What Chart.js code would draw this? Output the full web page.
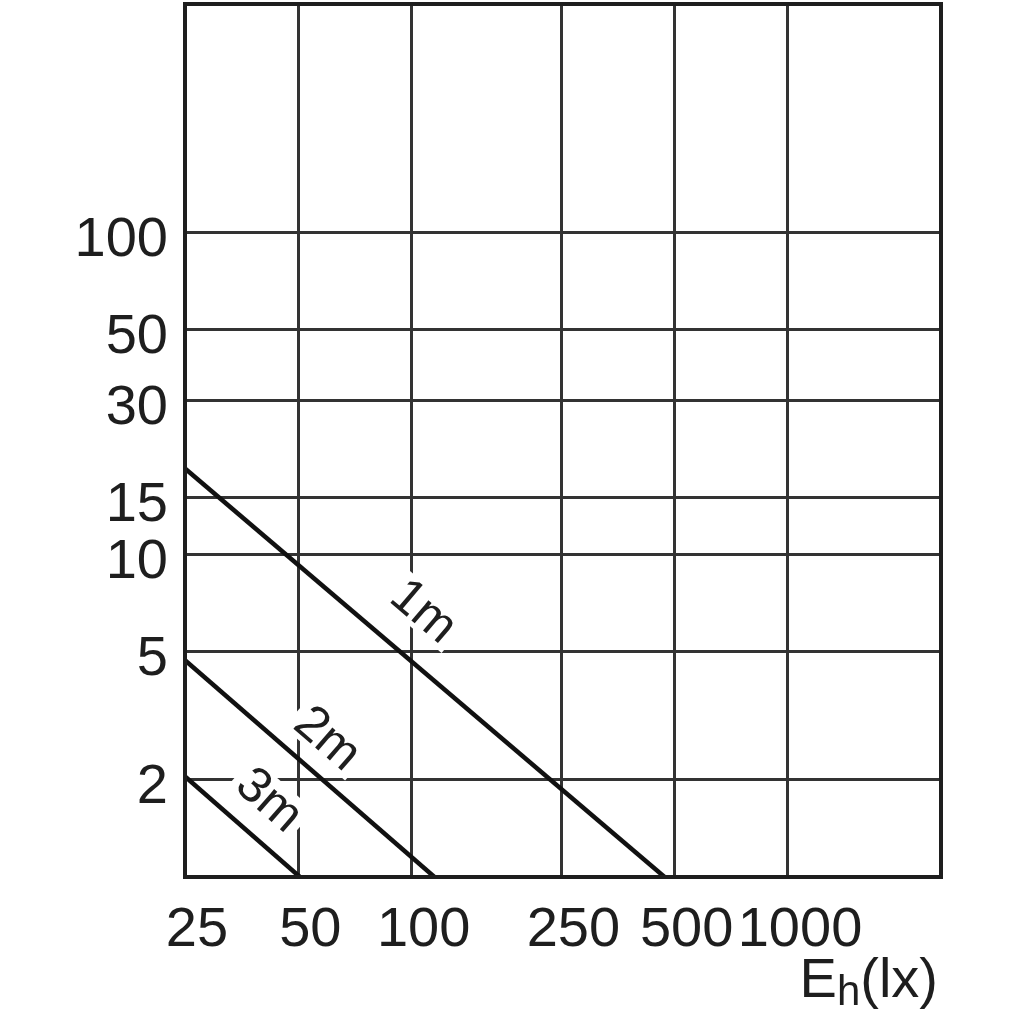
<!DOCTYPE html>
<html>
<head>
<meta charset="utf-8">
<script src="https://cdn.jsdelivr.net/npm/chart.js@4.4.0/dist/chart.umd.min.js"></script>
<style>
  html, body { margin: 0; padding: 0; background: #fff; }
</style>
</head>
<body>
<canvas id="chart" width="1024" height="1024"></canvas>
<script>
// Eh (lx) на оси x, обе оси логарифмические
const xTicks = [25, 50, 100, 250, 500, 1000];
const yTicks = [2, 5, 10, 15, 30, 50, 100];
const xRange = [25, 2550];
const yRange = [1, 510];

const seriesNames = ['1m', '2m', '3m'];
const line1m = [{ x: 25, y: 18.5 }, { x: 470, y: 1 }];
const line2m = [{ x: 25, y: 4.7 }, { x: 115, y: 1 }];
const line3m = [{ x: 25, y: 2.05 }, { x: 50.5, y: 1 }];

// где стоят подписи линий (в единицах данных)
const labelX = [108, 60, 42];
const labelY = [6.7, 2.7, 1.74];

const FONT = '"Liberation Sans", Arial, Helvetica, sans-serif';
const INK = '#1e1e1e';

// подписи 1m / 2m / 3m вдоль линий, с белой подложкой поверх сетки
const lineLabels = {
	id: 'lineLabels',
	beforeDatasetsDraw(chart) {
		const { ctx, scales: { x, y } } = chart;
		ctx.save();
		ctx.font = '50px ' + FONT;
		ctx.textAlign = 'center';
		ctx.textBaseline = 'middle';
		chart.data.datasets.forEach((ds, i) => {
			const a = ds.data[0];
			const b = ds.data[ds.data.length - 1];
			const ang = Math.atan2(
				y.getPixelForValue(b.y) - y.getPixelForValue(a.y),
				x.getPixelForValue(b.x) - x.getPixelForValue(a.x)
			);
			ctx.save();
			ctx.translate(x.getPixelForValue(labelX[i]), y.getPixelForValue(labelY[i]));
			ctx.rotate(ang);
			const w = ctx.measureText(ds.label).width;
			ctx.fillStyle = '#fff';
			ctx.fillRect(-w / 2 - 6, -21, w + 12, 42);
			ctx.fillStyle = INK;
			ctx.fillText(ds.label, 0, 2);
			ctx.restore();
		});
		ctx.restore();
	}
};

// рамка и подпись оси Eh(lx)
const frameAndTitle = {
	id: 'frameAndTitle',
	afterDraw(chart) {
		const { ctx, chartArea: ca } = chart;
		ctx.save();
		ctx.strokeStyle = INK;
		ctx.lineWidth = 4;
		ctx.strokeRect(ca.left, ca.top, ca.right - ca.left, ca.bottom - ca.top);

		ctx.fillStyle = INK;
		ctx.textAlign = 'left';
		ctx.textBaseline = 'alphabetic';
		const base = chart.height - 27;
		const big = '56px ' + FONT;
		const small = '42px ' + FONT;
		ctx.font = big;
		const wE = ctx.measureText('E').width;
		const wTail = ctx.measureText('(lx)').width;
		ctx.font = small;
		const wH = ctx.measureText('h').width;
		let px = ca.right - 3 - wTail - wH - wE;
		ctx.font = big;
		ctx.fillText('E', px, base);
		px += wE;
		ctx.font = small;
		ctx.fillText('h', px, base + 8);
		px += wH;
		ctx.font = big;
		ctx.fillText('(lx)', px, base);
		ctx.restore();
	}
};

const gridOpts = { color: '#333', lineWidth: 3, drawTicks: false };

new Chart(document.getElementById('chart'), {
	type: 'line',
	data: {
		datasets: [line1m, line2m, line3m].map((pts, i) => ({
			label: seriesNames[i],
			data: pts,
			borderColor: '#111',
			borderWidth: 4.5,
			pointRadius: 0,
			fill: false,
			tension: 0
		}))
	},
	options: {
		responsive: false,
		animation: false,
		layout: { padding: { top: 4, right: 83, left: 0, bottom: 0 } },
		plugins: {
			legend: { display: false },
			tooltip: { enabled: false }
		},
		scales: {
			x: {
				type: 'logarithmic',
				min: xRange[0],
				max: xRange[1],
				afterBuildTicks: ax => { ax.ticks = xTicks.map(v => ({ value: v })); },
				afterFit: ax => {
					ax.height = 147;
					ax.paddingLeft = 0;
					ax.paddingRight = 0;
				},
				grid: gridOpts,
				border: { display: false },
				ticks: {
					autoSkip: false,
					maxRotation: 0,
					padding: 20,
					labelOffset: 12,
					color: INK,
					font: { size: 56, family: FONT },
					callback: v => String(v)
				}
			},
			y: {
				type: 'logarithmic',
				min: yRange[0],
				max: yRange[1],
				afterBuildTicks: ax => { ax.ticks = yTicks.map(v => ({ value: v })); },
				afterFit: ax => {
					ax.width = 185;
					ax.paddingTop = 0;
					ax.paddingBottom = 0;
				},
				grid: gridOpts,
				border: { display: false },
				ticks: {
					autoSkip: false,
					padding: 17,
					labelOffset: 8,
					color: INK,
					font: { size: 56, family: FONT },
					callback: v => String(v)
				}
			}
		}
	},
	plugins: [lineLabels, frameAndTitle]
});
</script>
</body>
</html>
